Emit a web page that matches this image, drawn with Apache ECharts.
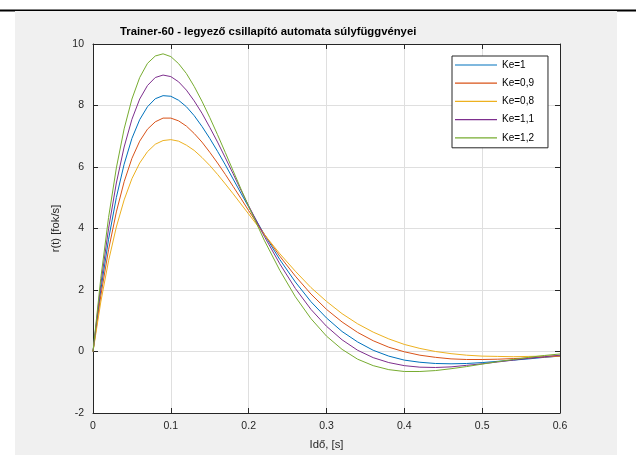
<!DOCTYPE html>
<html>
<head>
<meta charset="utf-8">
<script src="https://cdn.jsdelivr.net/npm/echarts@6/dist/echarts.min.js"></script>
<style>
  html, body { margin: 0; padding: 0; background: #fff; }
  #chart { width: 636px; height: 455px; }
</style>
</head>
<body>
<div id="chart"></div>
<script>
// time [s] - 0.01 steps up to 0.2, then 0.02
var tArr = [0, 0.01, 0.02, 0.03, 0.04, 0.05, 0.06, 0.07, 0.08, 0.09, 0.10,
    0.11, 0.12, 0.13, 0.14, 0.15, 0.16, 0.17, 0.18, 0.19, 0.20,
    0.22, 0.24, 0.26, 0.28, 0.30, 0.32, 0.34, 0.36, 0.38, 0.40,
    0.42, 0.44, 0.46, 0.48, 0.50, 0.52, 0.54, 0.56, 0.58, 0.60];

// r(t) [fok/s] for each Ke
var ke10 = [0, 1.99, 3.65, 5.01, 6.09, 6.93, 7.54, 7.96, 8.22, 8.32, 8.30,
    8.17, 7.96, 7.67, 7.32, 6.93, 6.51, 6.07, 5.61, 5.15, 4.70,
    3.81, 2.99, 2.26, 1.62, 1.09, 0.65, 0.31, 0.04, -0.15, -0.28,
    -0.35, -0.39, -0.40, -0.39, -0.36, -0.32, -0.28, -0.24, -0.19, -0.15];
var ke09 = [0, 1.81, 3.31, 4.54, 5.52, 6.28, 6.84, 7.23, 7.47, 7.59, 7.59,
    7.50, 7.33, 7.09, 6.81, 6.48, 6.13, 5.76, 5.37, 4.98, 4.58,
    3.82, 3.10, 2.45, 1.87, 1.37, 0.96, 0.62, 0.35, 0.14, -0.01,
    -0.12, -0.19, -0.24, -0.26, -0.26, -0.25, -0.23, -0.21, -0.18, -0.15];
var ke08 = [0, 1.61, 2.95, 4.05, 4.93, 5.62, 6.13, 6.50, 6.74, 6.86, 6.89,
    6.84, 6.71, 6.54, 6.31, 6.05, 5.76, 5.45, 5.13, 4.80, 4.47,
    3.81, 3.18, 2.61, 2.08, 1.63, 1.23, 0.90, 0.63, 0.41, 0.23,
    0.10, 0.00, -0.07, -0.12, -0.15, -0.16, -0.17, -0.16, -0.15, -0.14];
var ke11 = [0, 2.18, 4.00, 5.48, 6.65, 7.55, 8.21, 8.65, 8.91, 8.99, 8.94,
    8.77, 8.50, 8.15, 7.75, 7.29, 6.81, 6.30, 5.78, 5.25, 4.74,
    3.75, 2.85, 2.05, 1.37, 0.82, 0.38, 0.04, -0.20, -0.36, -0.46,
    -0.51, -0.52, -0.50, -0.45, -0.40, -0.34, -0.28, -0.22, -0.17, -0.12];
var ke12 = [0, 2.38, 4.36, 5.97, 7.24, 8.21, 8.91, 9.37, 9.61, 9.68, 9.59,
    9.36, 9.04, 8.62, 8.14, 7.61, 7.05, 6.47, 5.88, 5.29, 4.72,
    3.62, 2.64, 1.78, 1.07, 0.50, 0.07, -0.25, -0.46, -0.59, -0.65,
    -0.65, -0.62, -0.56, -0.49, -0.41, -0.33, -0.26, -0.19, -0.13, -0.08];

var names = ['Ke=1', 'Ke=0,9', 'Ke=0,8', 'Ke=1,1', 'Ke=1,2'];
var values = [ke10, ke09, ke08, ke11, ke12];
var colors = ['#0072BD', '#D95319', '#EDB120', '#7E2F8E', '#77AC30'];

var font = '"Liberation Sans", Arial, Helvetica, sans-serif';
var axisColor = '#262626';

function pairs(arr) {
    return tArr.map(function (t, i) { return [t, arr[i]]; });
}

var series = names.map(function (n, i) {
    return {
        name: n,
        type: 'line',
        data: pairs(values[i]),
        showSymbol: false,
        symbol: 'none',
        lineStyle: { width: 1, color: colors[i] },
        itemStyle: { color: colors[i] }
    };
});

// extra axes on top/right only for the box ticks
function boxAxis(pos, min, max, step) {
    return {
        type: 'value', position: pos, min: min, max: max, interval: step,
        axisLine: { show: true, onZero: false, lineStyle: { color: axisColor, width: 1 } },
        axisTick: { show: true, inside: true, length: 5, lineStyle: { color: axisColor } },
        axisLabel: { show: false },
        splitLine: { show: false }
    };
}

var myChart = echarts.init(document.getElementById('chart'));
var option = {
    backgroundColor: '#fff',
    animation: false,
    textStyle: { fontFamily: font },
    color: colors,
    graphic: [
        { type: 'rect', z: -100, shape: { x: 0, y: 9.5, width: 636, height: 2 }, style: { fill: '#000' } },
        { type: 'rect', z: -100, shape: { x: 15, y: 11, width: 602, height: 444 }, style: { fill: '#f0f0f0' } }
    ],
    title: {
        text: 'Trainer-60 - legyező csillapító automata súlyfüggvényei',
        left: 120,
        top: 26,
        padding: 0,
        textStyle: { fontFamily: font, fontSize: 11.3, fontWeight: 'bold', color: '#000' }
    },
    grid: {
        left: 93, top: 44, width: 467, height: 369,
        show: true, backgroundColor: '#fff', borderWidth: 0
    },
    legend: {
        data: names,
        orient: 'vertical',
        left: 452,
        top: 56,
        padding: [3, 14, 4, 3],
        itemGap: 6.2,
        itemWidth: 42,
        itemHeight: 1.2,
        icon: 'rect',
        backgroundColor: '#fff',
        borderColor: axisColor,
        borderWidth: 1,
        borderRadius: 0,
        selectedMode: false,
        textStyle: { fontFamily: font, fontSize: 10, lineHeight: 12, color: '#000' }
    },
    xAxis: [
        {
            type: 'value', min: 0, max: 0.6, interval: 0.1,
            name: 'Idő, [s]', nameLocation: 'middle', nameGap: 26,
            nameTextStyle: { fontFamily: font, fontSize: 11.3, color: axisColor },
            axisLine: { show: true, onZero: false, lineStyle: { color: axisColor, width: 1 } },
            axisTick: { show: true, inside: true, length: 5, lineStyle: { color: axisColor } },
            axisLabel: { fontFamily: font, fontSize: 10.5, color: axisColor, margin: 8 },
            splitLine: { show: true, lineStyle: { color: '#dfdfdf', width: 1 } }
        },
        boxAxis('top', 0, 0.6, 0.1)
    ],
    yAxis: [
        {
            type: 'value', min: -2, max: 10, interval: 2,
            name: 'r(t) [fok/s]', nameLocation: 'middle', nameGap: 29,
            nameTextStyle: { fontFamily: font, fontSize: 11.3, color: axisColor },
            axisLine: { show: true, onZero: false, lineStyle: { color: axisColor, width: 1 } },
            axisTick: { show: true, inside: true, length: 5, lineStyle: { color: axisColor } },
            axisLabel: { fontFamily: font, fontSize: 10.5, color: axisColor, margin: 9 },
            splitLine: { show: true, lineStyle: { color: '#dfdfdf', width: 1 } }
        },
        boxAxis('right', -2, 10, 2)
    ],
    series: series
};
myChart.setOption(option);
</script>
</body>
</html>
